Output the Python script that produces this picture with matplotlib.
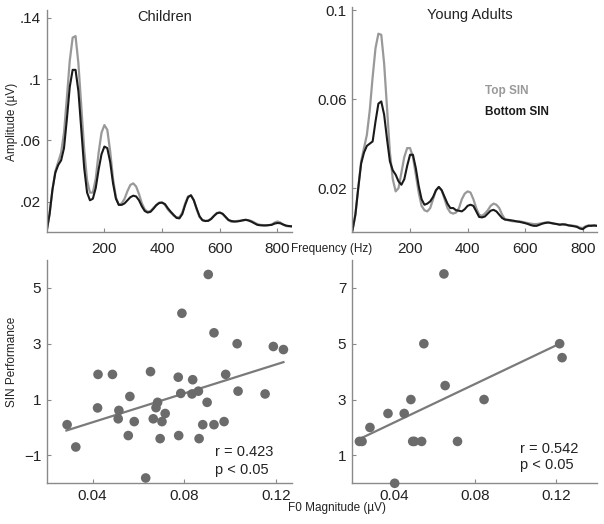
import numpy as np
import matplotlib
matplotlib.use("Agg")
import matplotlib.pyplot as plt

plt.rcParams["font.family"] = ["Liberation Sans", "DejaVu Sans"]

# Spectra, sampled every 10 Hz from 0 to 850 Hz
freq = np.arange(0, 851, 10)

child_top = [0.001, 0.012, 0.028, 0.040, 0.046, 0.052, 0.065, 0.088, 0.112, 0.127,
             0.128, 0.110, 0.082, 0.054, 0.034, 0.026, 0.026, 0.035, 0.052, 0.065,
             0.070, 0.067, 0.053, 0.035, 0.023, 0.018, 0.019, 0.022, 0.027, 0.031,
             0.032, 0.030, 0.025, 0.019, 0.015, 0.0135, 0.014, 0.016, 0.018, 0.0195,
             0.0195, 0.018, 0.015, 0.013, 0.011, 0.010, 0.010, 0.013, 0.019, 0.0235,
             0.024, 0.021, 0.015, 0.010, 0.008, 0.0075, 0.0078, 0.009, 0.011, 0.0128,
             0.013, 0.012, 0.010, 0.008, 0.007, 0.007, 0.0075, 0.0077, 0.0078, 0.0082,
             0.008, 0.0075, 0.0065, 0.0055, 0.005, 0.0048, 0.0047, 0.0048, 0.0052, 0.0065,
             0.0072, 0.0065, 0.005, 0.0042, 0.004, 0.004]
child_bottom = [0.001, 0.012, 0.028, 0.039, 0.044, 0.047, 0.055, 0.074, 0.095, 0.106,
                0.106, 0.092, 0.067, 0.042, 0.026, 0.021, 0.022, 0.029, 0.041, 0.051,
                0.056, 0.055, 0.046, 0.032, 0.022, 0.018, 0.018, 0.019, 0.021, 0.023,
                0.024, 0.0235, 0.021, 0.017, 0.014, 0.013, 0.0135, 0.0155, 0.0178, 0.0192,
                0.0195, 0.0185, 0.0158, 0.0135, 0.0115, 0.0095, 0.0092, 0.012, 0.018, 0.023,
                0.0243, 0.021, 0.0155, 0.0105, 0.008, 0.0075, 0.0076, 0.0088, 0.0108, 0.0125,
                0.013, 0.0122, 0.0102, 0.0082, 0.0075, 0.0072, 0.0072, 0.0075, 0.008, 0.0083,
                0.0078, 0.007, 0.006, 0.005, 0.0047, 0.0046, 0.0046, 0.0048, 0.005, 0.0058,
                0.0062, 0.006, 0.0052, 0.0045, 0.0042, 0.004]
adult_top = [0.001, 0.008, 0.020, 0.032, 0.038, 0.044, 0.055, 0.070, 0.083, 0.0895,
             0.089, 0.076, 0.056, 0.036, 0.024, 0.0185, 0.020, 0.027, 0.034, 0.038,
             0.038, 0.034, 0.026, 0.018, 0.012, 0.010, 0.0095, 0.011, 0.015, 0.019,
             0.0205, 0.019, 0.015, 0.011, 0.009, 0.0085, 0.009, 0.011, 0.015, 0.0175,
             0.0185, 0.018, 0.015, 0.011, 0.008, 0.0075, 0.0085, 0.010, 0.012, 0.013,
             0.0125, 0.011, 0.008, 0.006, 0.0055, 0.0052, 0.005, 0.005, 0.005, 0.0048,
             0.0045, 0.0042, 0.004, 0.0038, 0.0038, 0.004, 0.0042, 0.0045, 0.0045, 0.0042,
             0.004, 0.0038, 0.0036, 0.0036, 0.0035, 0.0033, 0.0032, 0.003, 0.0028, 0.0022,
             0.002, 0.0028, 0.0032, 0.0032, 0.003, 0.003]
adult_bottom = [0.001, 0.008, 0.020, 0.031, 0.036, 0.039, 0.040, 0.041, 0.050, 0.058,
                0.059, 0.053, 0.042, 0.032, 0.028, 0.026, 0.023, 0.0215, 0.024, 0.030,
                0.035, 0.035, 0.029, 0.021, 0.015, 0.0125, 0.013, 0.014, 0.016, 0.019,
                0.0205, 0.019, 0.016, 0.013, 0.011, 0.011, 0.010, 0.0098, 0.0095, 0.0105,
                0.012, 0.0125, 0.012, 0.0095, 0.007, 0.0068, 0.0072, 0.0085, 0.0098, 0.0102,
                0.0095, 0.008, 0.0065, 0.0058, 0.0057, 0.0055, 0.0053, 0.005, 0.0048, 0.0045,
                0.0042, 0.0038, 0.0033, 0.003, 0.003, 0.0035, 0.004, 0.0043, 0.0045, 0.0043,
                0.004, 0.0038, 0.0035, 0.0037, 0.0036, 0.0032, 0.003, 0.0028, 0.0025, 0.0018,
                0.0015, 0.0025, 0.003, 0.003, 0.0032, 0.003]

# F0 magnitude vs SIN performance
child_f0 = [0.0289, 0.0327, 0.0424, 0.0422, 0.0487, 0.0515, 0.0512, 0.0563, 0.0556, 0.0582,
            0.0653, 0.0665, 0.0677, 0.0684, 0.0703, 0.0717, 0.0695, 0.0632, 0.0774, 0.0785,
            0.0790, 0.0776, 0.0837, 0.0834, 0.0862, 0.0865, 0.0881, 0.0900, 0.0905, 0.0930,
            0.0930, 0.0974, 0.0981, 0.1031, 0.1035, 0.1153, 0.1189, 0.1233]
child_sin = [0.10, -0.70, 1.90, 0.70, 1.90, 0.61, 0.31, 1.11, -0.29, 0.21,
             2.00, 0.31, 0.71, 0.90, 0.21, 0.50, -0.40, -1.81, 1.80, 1.22,
             4.09, -0.29, 1.71, 1.20, 1.30, -0.40, 0.10, 0.90, 5.48, 3.39,
             0.10, 0.21, 1.90, 3.00, 1.30, 1.20, 2.90, 2.79]
child_fit_x = [0.0286, 0.1233]
child_fit_y = [-0.11, 2.34]

adult_f0 = [0.0228, 0.0241, 0.0280, 0.0369, 0.0449, 0.0482, 0.0491, 0.0499, 0.0535,
            0.0546, 0.0402, 0.0645, 0.0651, 0.0712, 0.0843, 0.1216, 0.1228]
adult_sin = [1.5, 1.5, 2.0, 2.5, 2.5, 3.0, 1.5, 1.5, 1.5,
             5.0, 0.0, 7.5, 3.5, 1.5, 3.0, 5.0, 4.5]
adult_fit_x = [0.0215, 0.1216]
adult_fit_y = [1.54, 5.0]

gray_line = "#999999"
dark_line = "#1a1a1a"
spine_col = "#8a8a8a"
dot_col = "#6b6b6b"
txt_col = "#222222"


def style(ax):
    for s in ["top", "right"]:
        ax.spines[s].set_visible(False)
    for s in ["left", "bottom"]:
        ax.spines[s].set_color(spine_col)
        ax.spines[s].set_linewidth(1.0)
    ax.tick_params(direction="in", length=3, color=spine_col, labelsize=11,
                   labelcolor=txt_col, pad=4)


fig = plt.figure(figsize=(6.04, 5.24), dpi=100)
ax1 = fig.add_axes([0.0773, 0.5563, 0.406, 0.4246])
ax2 = fig.add_axes([0.5836, 0.5563, 0.405, 0.4303])
ax3 = fig.add_axes([0.0773, 0.0777, 0.406, 0.4262])
ax4 = fig.add_axes([0.5823, 0.0777, 0.406, 0.4262])

# Children spectrum
ax1.plot(freq, child_top, color=gray_line, lw=1.6)
ax1.plot(freq, child_bottom, color=dark_line, lw=1.5)
ax1.set_xlim(0, 850)
ax1.set_ylim(0, 0.145)
ax1.set_xticks([200, 400, 600, 800])
ax1.set_yticks([0.02, 0.06, 0.1, 0.14])
ax1.set_yticklabels([".02", ".06", ".1", ".14"])
style(ax1)
ax1.tick_params(axis="x", pad=7)
ax1.text(0.48, 0.97, "Children", transform=ax1.transAxes, ha="center", va="center",
         fontsize=10.5, color=txt_col)

# Young adults spectrum
ax2.plot(freq, adult_top, color=gray_line, lw=1.6)
ax2.plot(freq, adult_bottom, color=dark_line, lw=1.5)
ax2.set_xlim(0, 850)
ax2.set_ylim(0, 0.1015)
ax2.set_xticks([200, 400, 600, 800])
ax2.set_yticks([0.02, 0.06, 0.1])
ax2.set_yticklabels(["0.02", "0.06", "0.1"])
style(ax2)
ax2.tick_params(axis="x", pad=7)
ax2.text(0.48, 0.965, "Young Adults", transform=ax2.transAxes, ha="center", va="center",
         fontsize=10.5, color=txt_col)
fig.text(485 / 604, 1 - 91 / 524, "Top SIN", color=gray_line, fontsize=8.5,
         fontweight="bold", ha="left", va="center")
fig.text(485 / 604, 1 - 112 / 524, "Bottom SIN", color=dark_line, fontsize=8.5,
         fontweight="bold", ha="left", va="center")

# Children scatter
ax3.scatter(child_f0, child_sin, s=48, color=dot_col, edgecolors="none", zorder=3,
            clip_on=False)
ax3.plot(child_fit_x, child_fit_y, color="#7a7a7a", lw=1.6, zorder=2)
ax3.set_xlim(0.02, 0.127)
ax3.set_ylim(-2, 6)
ax3.set_xticks([0.04, 0.08, 0.12])
ax3.set_xticklabels(["0.04", "0.08", "0.12"])
ax3.set_yticks([-1, 1, 3, 5])
style(ax3)
ax3.text(215 / 604, 1 - 452 / 524, "r = 0.423", transform=fig.transFigure,
         fontsize=10.5, color=txt_col, va="center")
ax3.text(215 / 604, 1 - 470 / 524, "p < 0.05", transform=fig.transFigure,
         fontsize=10.5, color=txt_col, va="center")

# Adults scatter
ax4.scatter(adult_f0, adult_sin, s=48, color=dot_col, edgecolors="none", zorder=3,
            clip_on=False)
ax4.plot(adult_fit_x, adult_fit_y, color="#7a7a7a", lw=1.6, zorder=2)
ax4.set_xlim(0.019, 0.14)
ax4.set_ylim(0, 8)
ax4.set_xticks([0.04, 0.08, 0.12])
ax4.set_xticklabels(["0.04", "0.08", "0.12"])
ax4.set_yticks([1, 3, 5, 7])
style(ax4)
ax4.text(520 / 604, 1 - 449 / 524, "r = 0.542", transform=fig.transFigure,
         fontsize=10.5, color=txt_col, va="center")
ax4.text(520 / 604, 1 - 465 / 524, "p < 0.05", transform=fig.transFigure,
         fontsize=10.5, color=txt_col, va="center")

# Shared labels
fig.text(12 / 604, 1 - 122 / 524, "Amplitude (\u00b5V)", rotation=90, ha="center",
         va="center", fontsize=8.5, color=txt_col)
fig.text(12 / 604, 1 - 362 / 524, "SIN Performance", rotation=90, ha="center",
         va="center", fontsize=8.5, color=txt_col)
fig.text(332 / 604, 1 - 249 / 524, "Frequency (Hz)", ha="center", va="center",
         fontsize=8.5, color=txt_col)
fig.text(337 / 604, 1 - 508 / 524, "F0 Magnitude (\u00b5V)", ha="center", va="center",
         fontsize=8.5, color=txt_col)

fig.savefig("out.png", dpi=100)
